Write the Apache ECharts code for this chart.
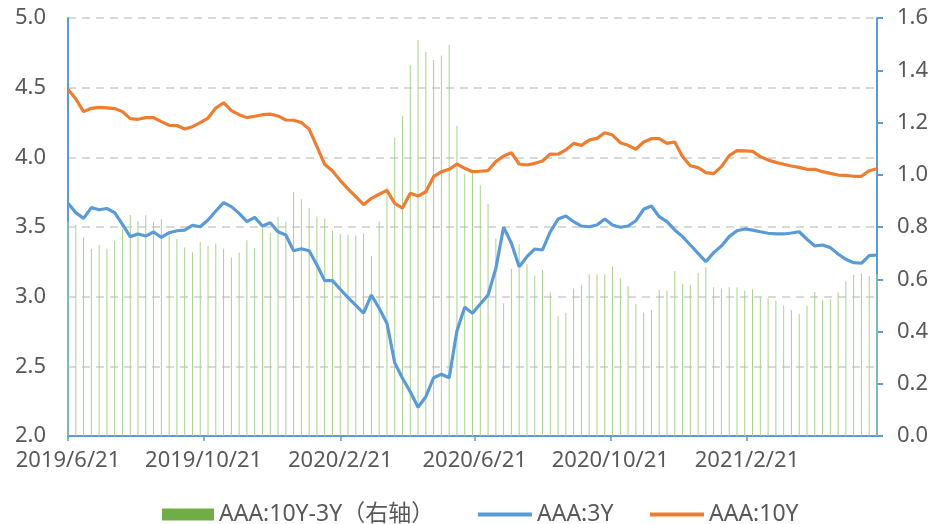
<!DOCTYPE html>
<html>
<head>
<meta charset="utf-8">
<script src="https://cdn.jsdelivr.net/npm/echarts@6/dist/echarts.min.js"></script>
<style>
html,body{margin:0;padding:0;background:#fff;}
#chart{width:936px;height:524px;}
</style>
</head>
<body>
<div id="chart"></div>
<script>
// Weekly observation dates
var dates = [
'2019/6/21','2019/6/28','2019/7/5','2019/7/12','2019/7/19','2019/7/26','2019/8/2','2019/8/9','2019/8/16','2019/8/23','2019/8/30',
'2019/9/6','2019/9/13','2019/9/20','2019/9/27','2019/10/4','2019/10/11','2019/10/18','2019/10/25','2019/11/1','2019/11/8',
'2019/11/15','2019/11/22','2019/11/29','2019/12/6','2019/12/13','2019/12/20','2019/12/27',
'2020/1/3','2020/1/10','2020/1/17','2020/1/24','2020/1/31','2020/2/7','2020/2/14','2020/2/21','2020/2/28','2020/3/6','2020/3/13',
'2020/3/20','2020/3/27','2020/4/3','2020/4/10','2020/4/17','2020/4/24','2020/5/1','2020/5/8','2020/5/15','2020/5/22','2020/5/29',
'2020/6/5','2020/6/12','2020/6/19','2020/6/26','2020/7/3','2020/7/10','2020/7/17','2020/7/24','2020/7/31','2020/8/7','2020/8/14',
'2020/8/21','2020/8/28','2020/9/4','2020/9/11','2020/9/18','2020/9/25','2020/10/2','2020/10/9','2020/10/16','2020/10/23','2020/10/30',
'2020/11/6','2020/11/13','2020/11/20','2020/11/27','2020/12/4','2020/12/11','2020/12/18','2020/12/25',
'2021/1/1','2021/1/8','2021/1/15','2021/1/22','2021/1/29','2021/2/5','2021/2/12','2021/2/19','2021/2/26','2021/3/5','2021/3/12',
'2021/3/19','2021/3/26','2021/4/2','2021/4/9','2021/4/16','2021/4/23','2021/4/30','2021/5/7','2021/5/14','2021/5/21','2021/5/28',
'2021/6/4','2021/6/11','2021/6/18'
];
// AAA:3Y
var aaa3Y = [
3.670,3.603,3.562,3.639,3.624,3.633,3.603,3.519,3.431,3.450,3.435,3.464,3.426,3.459,3.473,3.478,3.512,3.502,3.550,3.615,
3.675,3.646,3.598,3.538,3.569,3.507,3.531,3.466,3.443,3.330,3.344,3.330,3.227,3.115,3.115,3.053,2.993,2.938,2.881,3.012,
2.917,2.809,2.526,2.414,2.318,2.206,2.282,2.418,2.443,2.418,2.756,2.924,2.881,2.947,3.012,3.203,3.498,3.383,3.215,3.287,
3.342,3.335,3.466,3.557,3.579,3.538,3.507,3.502,3.514,3.557,3.514,3.498,3.507,3.545,3.627,3.651,3.574,3.538,3.479,3.431,
3.371,3.311,3.251,3.316,3.364,3.431,3.473,3.486,3.478,3.466,3.455,3.450,3.450,3.457,3.466,3.412,3.364,3.371,3.352,3.306,
3.268,3.244,3.240,3.294,3.299
];
// AAA:10Y
var aaa10Y = [
4.488,4.419,4.328,4.352,4.359,4.355,4.350,4.328,4.278,4.273,4.285,4.285,4.256,4.230,4.228,4.203,4.220,4.249,4.282,4.354,
4.392,4.335,4.306,4.285,4.295,4.306,4.310,4.297,4.268,4.266,4.249,4.203,4.077,3.950,3.902,3.833,3.773,3.718,3.660,3.706,
3.735,3.763,3.670,3.636,3.742,3.722,3.753,3.861,3.897,3.914,3.952,3.921,3.897,3.900,3.905,3.969,4.010,4.033,3.952,3.945,
3.957,3.974,4.024,4.022,4.053,4.100,4.086,4.124,4.136,4.177,4.160,4.105,4.086,4.058,4.110,4.134,4.134,4.100,4.110,4.005,
3.940,3.926,3.890,3.883,3.933,4.012,4.048,4.046,4.043,4.005,3.981,3.964,3.950,3.938,3.928,3.914,3.914,3.897,3.885,3.873,
3.870,3.864,3.864,3.904,3.918
];
// AAA:10Y-3Y spread (right axis)
var spread = [
0.820,0.808,0.761,0.716,0.731,0.718,0.746,0.791,0.846,0.823,0.845,0.820,0.831,0.780,0.754,0.722,0.703,0.744,0.727,0.737,
0.717,0.683,0.702,0.749,0.721,0.801,0.778,0.839,0.820,0.935,0.906,0.874,0.840,0.833,0.785,0.773,0.770,0.768,0.776,0.690,
0.820,0.954,1.143,1.225,1.420,1.516,1.470,1.439,1.456,1.497,1.188,1.002,1.012,0.961,0.888,0.757,0.508,0.639,0.734,0.657,
0.614,0.635,0.549,0.459,0.472,0.565,0.578,0.619,0.619,0.619,0.648,0.604,0.575,0.505,0.473,0.482,0.559,0.556,0.632,0.582,
0.578,0.625,0.646,0.569,0.565,0.569,0.568,0.556,0.561,0.533,0.527,0.518,0.500,0.482,0.467,0.498,0.551,0.521,0.523,0.549,
0.593,0.616,0.623,0.612,0.620
];
var xTickLabels = ['2019/6/21','2019/10/21','2020/2/21','2020/6/21','2020/10/21','2021/2/21'];
var seriesNames = ['AAA:10Y-3Y（右轴）','AAA:3Y','AAA:10Y'];

function ts(s){var p=s.split('/');return new Date(+p[0],+p[1]-1,+p[2]).getTime();}
function pairs(vals){return dates.map(function(d,i){return [ts(d),vals[i]];});}
var tickVals = xTickLabels.map(ts);

var FONT = '"Noto Sans", "Noto Sans CJK SC", sans-serif';
var TXT = '#595959';
var AXIS = '#5B9BD5';
var LEG_TXT = {fontSize:23,color:TXT,fontFamily:FONT};

var chart = echarts.init(document.getElementById('chart'), null, {renderer:'canvas'});
chart.setOption({
  animation:false,
  backgroundColor:'#ffffff',
  grid:{left:68,right:59,top:18,bottom:88,containLabel:false},
  legend:[
    {data:[{name:seriesNames[0],itemStyle:{color:'#70AD47'}}],left:157,top:498,itemWidth:52,itemHeight:12,icon:'rect',
     textStyle:LEG_TXT,itemGap:5},
    {data:[seriesNames[1]],left:473,top:498,itemWidth:54,itemHeight:4,icon:'rect',
     textStyle:LEG_TXT,itemGap:5},
    {data:[seriesNames[2]],left:645,top:498,itemWidth:54,itemHeight:4,icon:'rect',
     textStyle:LEG_TXT,itemGap:5}
  ],
  xAxis:{
    type:'value',
    min:ts(dates[0]),max:ts(dates[dates.length-1]),
    axisLine:{show:true,onZero:false,lineStyle:{color:AXIS,width:2}},
    axisTick:{show:true,length:5,lineStyle:{color:AXIS,width:1.5},customValues:tickVals},
    axisLabel:{customValues:tickVals,fontSize:22,color:TXT,fontFamily:FONT,margin:14,hideOverlap:false,
      formatter:function(v){var d=new Date(v);return d.getFullYear()+'/'+(d.getMonth()+1)+'/'+d.getDate();}},
    splitLine:{show:false}
  },
  yAxis:[
    {type:'value',min:2,max:5,interval:0.5,position:'left',
     axisLine:{show:true,lineStyle:{color:AXIS,width:2}},
     axisTick:{show:false},
     axisLabel:{fontSize:22,color:TXT,fontFamily:FONT,margin:22,formatter:function(v){return v.toFixed(1);}},
     splitLine:{show:true,lineStyle:{color:'#d9d9d9',width:2,type:[8,6]}}},
    {type:'value',min:0,max:1.6,interval:0.2,position:'right',
     axisLine:{show:true,lineStyle:{color:AXIS,width:2}},
     axisTick:{show:true,inside:false,length:6,lineStyle:{color:AXIS,width:2}},
     axisLabel:{fontSize:22,color:TXT,fontFamily:FONT,margin:20,formatter:function(v){return v.toFixed(1);}},
     splitLine:{show:false}}
  ],
  series:[
    {name:seriesNames[0],type:'bar',yAxisIndex:1,data:pairs(spread),barWidth:1,
     itemStyle:{color:'#a9d18e'},z:1},
    {name:seriesNames[1],type:'line',yAxisIndex:0,data:pairs(aaa3Y),symbol:'none',showSymbol:false,
     lineStyle:{color:'#5B9BD5',width:3.2},itemStyle:{color:'#5B9BD5'},z:3},
    {name:seriesNames[2],type:'line',yAxisIndex:0,data:pairs(aaa10Y),symbol:'none',showSymbol:false,
     lineStyle:{color:'#ED7D31',width:3.2},itemStyle:{color:'#ED7D31'},z:3}
  ]
});
</script>
</body>
</html>
